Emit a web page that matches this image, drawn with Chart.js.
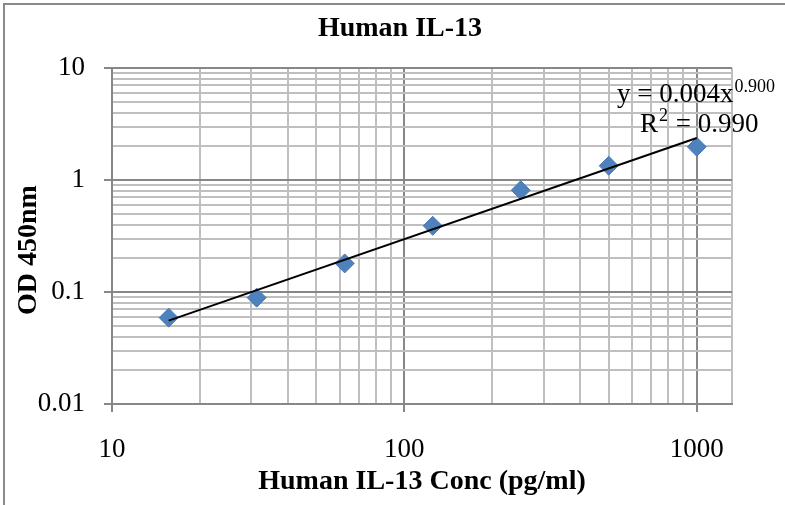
<!DOCTYPE html>
<html>
<head>
<meta charset="utf-8">
<script src="https://cdn.jsdelivr.net/npm/chart.js@4.4.0/dist/chart.umd.min.js"></script>
<style>
  html, body { margin: 0; padding: 0; background: #fff; }
  #wrap { position: relative; width: 785px; height: 505px; overflow: hidden; }
  #frame { position: absolute; left: 3px; top: 3px; width: 900px; height: 600px; border: 2px solid #8a8a8a; }
  #grafica { position: absolute; left: 0; top: 0; }
</style>
</head>
<body>
<div id="wrap">
  <div id="frame"></div>
  <canvas id="grafica" width="785" height="505"></canvas>
</div>
<script>
// Datos
const concentraciones = [15.625, 31.25, 62.5, 125, 250, 500, 1000];
const densidadOptica = [0.059, 0.089, 0.18, 0.39, 0.81, 1.34, 1.98];

// Extremos de la linea de tendencia (potencia)
const tendenciaX = [15.625, 1000];
const tendenciaY = [0.0555, 2.37];

const etiquetasX = ['10', '100', '1000'];
const etiquetasY = ['0.01', '0.1', '1', '10'];

const titulo = 'Human IL-13';
const tituloX = 'Human IL-13 Conc (pg/ml)';
const tituloY = 'OD 450nm';
const ecuacion = 'y = 0.004x';
const exponente = '0.900';
const rCuadrado = '0.990';

const fuente = "'Liberation Serif', 'Times New Roman', serif";
const grisFuerte = '#878787';
const grisSuave = '#bfbfbf';

function esMayor(v) {
    const l = Math.log10(v);
    return Math.abs(l - Math.round(l)) < 1e-6;
}

// lineas secundarias 2..9 de cada decada
function valoresGrid(min, max, extra) {
    const vals = [];
    for (let d = Math.floor(Math.log10(min)); d <= Math.ceil(Math.log10(max)); d++) {
        for (let k = 1; k <= 9; k++) {
            const v = k * Math.pow(10, d);
            if (v >= min * 0.9999 && v <= max * 1.0001) vals.push(v);
        }
    }
    if (extra) vals.push(extra);
    return vals;
}

function etiqueta(lista) {
    return function(value) {
        const hit = lista.find(l => Math.abs(Number(l) - value) < 1e-9 * Math.max(1, value));
        return hit === undefined ? '' : hit;
    };
}

const gridCfg = {
    color: c => (c.tick && esMayor(c.tick.value)) ? grisFuerte : grisSuave,
    lineWidth: 2,
    tickColor: c => (c.tick && esMayor(c.tick.value)) ? grisFuerte : 'rgba(0,0,0,0)',
    tickLength: 8,
    drawTicks: true
};

// titulos y ecuacion de tendencia
const textosExtra = {
    id: 'textosExtra',
    afterDraw(chart) {
        const ctx = chart.ctx;
        const area = chart.chartArea;
        ctx.save();
        ctx.fillStyle = '#000';

        ctx.font = 'bold 28px ' + fuente;
        ctx.textAlign = 'center';
        ctx.textBaseline = 'middle';
        ctx.fillText(titulo, 400, 29);

        ctx.translate(29, 250);
        ctx.rotate(-Math.PI / 2);
        ctx.fillText(tituloY, 0, 0);
        ctx.setTransform(1, 0, 0, 1, 0, 0);

        ctx.textAlign = 'left';
        ctx.textBaseline = 'alphabetic';
        const x1 = area.right - 115;
        ctx.font = '27px ' + fuente;
        ctx.fillText(ecuacion, x1, area.top + 34);
        const w1 = ctx.measureText(ecuacion).width;
        ctx.font = '18px ' + fuente;
        ctx.fillText(exponente, x1 + w1 + 1, area.top + 24);

        const x2 = area.right - 92;
        ctx.font = '27px ' + fuente;
        ctx.fillText('R', x2, area.top + 64);
        const wR = ctx.measureText('R').width;
        ctx.font = '18px ' + fuente;
        ctx.fillText('2', x2 + wR + 1, area.top + 53);
        const w2 = ctx.measureText('2').width;
        ctx.font = '27px ' + fuente;
        ctx.fillText(' = ' + rCuadrado, x2 + wR + w2 + 2, area.top + 64);
        ctx.restore();
    }
};

document.addEventListener('DOMContentLoaded', function() {
    const ctx = document.getElementById('grafica').getContext('2d');

    new Chart(ctx, {
        type: 'scatter',
        data: {
            datasets: [
                {
                    label: 'Tendencia',
                    data: tendenciaX.map((x, i) => ({ x: x, y: tendenciaY[i] })),
                    showLine: true,
                    borderColor: '#000',
                    borderWidth: 2,
                    pointRadius: 0,
                    order: 0
                },
                {
                    label: 'OD',
                    data: concentraciones.map((x, i) => ({ x: x, y: densidadOptica[i] })),
                    pointStyle: 'rectRot',
                    pointRadius: 9.5,
                    backgroundColor: '#4f81bd',
                    borderColor: '#4a7ab5',
                    borderWidth: 1,
                    order: 1
                }
            ]
        },
        options: {
            responsive: false,
            animation: false,
            layout: { padding: { left: 0, right: 53, top: 68, bottom: 0 } },
            plugins: {
                legend: { display: false },
                tooltip: { enabled: false },
                title: { display: false }
            },
            scales: {
                x: {
                    type: 'logarithmic',
                    min: 10,
                    max: 1320,
                    afterBuildTicks: s => { s.ticks = valoresGrid(10, 1000, 1320).map(v => ({ value: v })); },
                    afterFit: s => { s.height = 101; },
                    ticks: {
                        callback: etiqueta(etiquetasX),
                        autoSkip: false,
                        maxRotation: 0,
                        color: '#000',
                        padding: 22,
                        font: { family: fuente, size: 27 }
                    },
                    grid: gridCfg,
                    border: { display: true, color: grisFuerte, width: 2 },
                    title: {
                        display: true,
                        text: tituloX,
                        color: '#000',
                        font: { family: fuente, size: 28, weight: 'bold' },
                        padding: { top: 0, bottom: 6 }
                    }
                },
                y: {
                    type: 'logarithmic',
                    min: 0.01,
                    max: 10,
                    afterBuildTicks: s => { s.ticks = valoresGrid(0.01, 10).map(v => ({ value: v })); },
                    afterFit: s => { s.width = 112; },
                    ticks: {
                        callback: etiqueta(etiquetasY),
                        autoSkip: false,
                        color: '#000',
                        padding: 19,
                        font: { family: fuente, size: 27 }
                    },
                    grid: gridCfg,
                    border: { display: true, color: grisFuerte, width: 2 }
                }
            }
        },
        plugins: [textosExtra]
    });
});
</script>
</body>
</html>
